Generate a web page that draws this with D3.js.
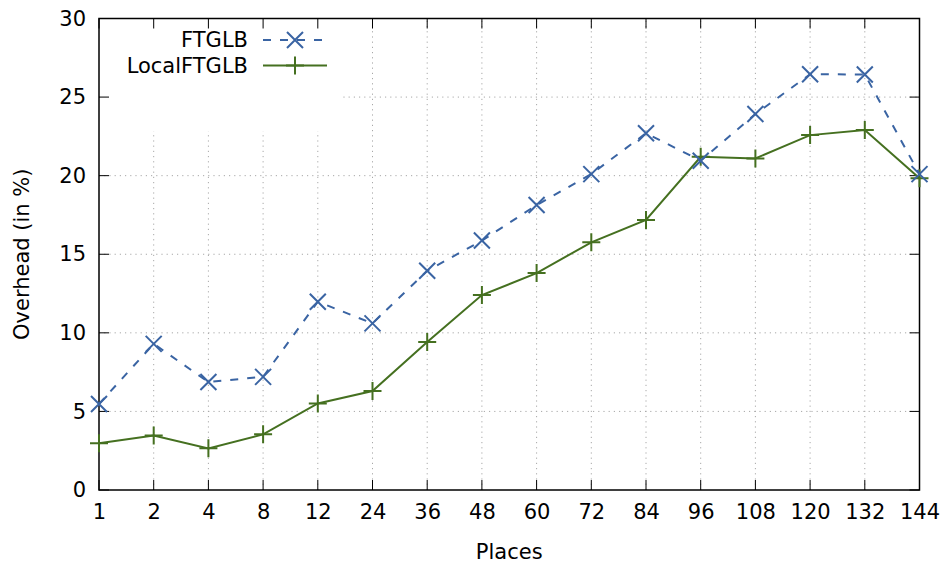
<!DOCTYPE html>
<html>
<head>
<meta charset="utf-8">
<script src="https://cdn.jsdelivr.net/npm/d3@7"></script>
<style>
  html, body { margin: 0; padding: 0; background: #fff; }
  svg { display: block; font-family: "DejaVu Sans", sans-serif; }
</style>
</head>
<body>
<svg id="chart" width="944" height="567"></svg>
<script>
const categories = ["1","2","4","8","12","24","36","48","60","72","84","96","108","120","132","144"];
const ftglb = [5.47, 9.3, 6.87, 7.2, 11.98, 10.6, 13.95, 15.87, 18.13, 20.1, 22.7, 20.95, 23.92, 26.45, 26.44, 20.1];
const localFtglb = [2.97, 3.46, 2.65, 3.54, 5.51, 6.3, 9.42, 12.4, 13.8, 15.76, 17.18, 21.2, 21.1, 22.58, 22.9, 19.83];
const yTicks = [0, 5, 10, 15, 20, 25, 30];
const seriesNames = ["FTGLB", "LocalFTGLB"];

const FS = 21;
const svg = d3.select("#chart");
const L = 99, R = 919.5, T = 18.5, B = 490;
const x = d3.scalePoint().domain(categories).range([L, R]);
const y = d3.scaleLinear().domain([0, 30]).range([B, T]);

const blue = "#3a64a3", green = "#457020", gridCol = "#a8a8a8";

// grid
const g = svg.append("g");
g.selectAll("line.hg").data(yTicks.filter(d => d > 0 && d < 30)).enter().append("line")
  .attr("x1", L).attr("x2", R).attr("y1", d => y(d)).attr("y2", d => y(d))
  .attr("stroke", gridCol).attr("stroke-width", 1).attr("stroke-dasharray", "1.2,4");
g.selectAll("line.vg").data(categories.slice(1, -1)).enter().append("line")
  .attr("x1", d => x(d)).attr("x2", d => x(d)).attr("y1", B).attr("y2", T)
  .attr("stroke", gridCol).attr("stroke-width", 1).attr("stroke-dasharray", "1.2,4");

// legend background (opaque key)
svg.append("rect").attr("x", L + 1).attr("y", T + 1).attr("width", 340 - L - 1).attr("height", 131 - T - 1).attr("fill", "#fff");

// ticks (inward, mirrored)
const tk = svg.append("g").attr("stroke", "#000").attr("stroke-width", 1);
yTicks.forEach(d => {
  tk.append("line").attr("x1", L).attr("x2", L + 10).attr("y1", y(d)).attr("y2", y(d));
  tk.append("line").attr("x1", R).attr("x2", R - 10).attr("y1", y(d)).attr("y2", y(d));
});
categories.forEach(d => {
  tk.append("line").attr("x1", x(d)).attr("x2", x(d)).attr("y1", B).attr("y2", B - 10);
  tk.append("line").attr("x1", x(d)).attr("x2", x(d)).attr("y1", T).attr("y2", T + 10);
});

// axes via d3
const yAxis = svg.append("g").attr("transform", `translate(${L},0)`)
  .call(d3.axisLeft(y).tickValues(yTicks).tickSize(0).tickPadding(13));
const xAxis = svg.append("g").attr("transform", `translate(0,${B})`)
  .call(d3.axisBottom(x).tickSize(0).tickPadding(14));
[yAxis, xAxis].forEach(a => {
  a.select(".domain").remove();
  a.selectAll("text").attr("font-size", FS).attr("fill", "#000").attr("font-family", "DejaVu Sans, sans-serif");
});

// border
svg.append("rect").attr("x", L).attr("y", T).attr("width", R - L).attr("height", B - T)
  .attr("fill", "none").attr("stroke", "#000").attr("stroke-width", 1.5);

// axis titles
svg.append("text").attr("x", (L + R) / 2).attr("y", 559).attr("text-anchor", "middle")
  .attr("font-size", FS).text("Places");
svg.append("text").attr("transform", `translate(29,${(T + B) / 2}) rotate(-90)`)
  .attr("text-anchor", "middle").attr("font-size", FS).text("Overhead (in %)");

// series
const line = d3.line().x((d, i) => x(categories[i])).y(d => y(d));
function xMark(sel, cx, cy, col) {
  const s = 8;
  sel.append("path").attr("d", `M${cx - s},${cy - s}L${cx + s},${cy + s}M${cx - s},${cy + s}L${cx + s},${cy - s}`)
    .attr("stroke", col).attr("stroke-width", 2).attr("fill", "none");
}
function plusMark(sel, cx, cy, col) {
  const s = 9;
  sel.append("path").attr("d", `M${cx - s},${cy}L${cx + s},${cy}M${cx},${cy - s}L${cx},${cy + s}`)
    .attr("stroke", col).attr("stroke-width", 2).attr("fill", "none");
}

svg.append("path").datum(localFtglb).attr("d", line).attr("fill", "none")
  .attr("stroke", green).attr("stroke-width", 2);
const gm = svg.append("g");
localFtglb.forEach((d, i) => plusMark(gm, x(categories[i]), y(d), green));

svg.append("path").datum(ftglb).attr("d", line).attr("fill", "none")
  .attr("stroke", blue).attr("stroke-width", 2).attr("stroke-dasharray", "8,9");
const bm = svg.append("g");
ftglb.forEach((d, i) => xMark(bm, x(categories[i]), y(d), blue));

// legend
const lg = svg.append("g");
const ly = [40, 65.5];
lg.append("text").attr("x", 248).attr("y", ly[0]).attr("dy", "0.35em").attr("text-anchor", "end")
  .attr("font-size", FS).text(seriesNames[0]);
lg.append("text").attr("x", 248).attr("y", ly[1]).attr("dy", "0.35em").attr("text-anchor", "end")
  .attr("font-size", FS).text(seriesNames[1]);
lg.append("line").attr("x1", 263).attr("x2", 327).attr("y1", ly[0]).attr("y2", ly[0])
  .attr("stroke", blue).attr("stroke-width", 2).attr("stroke-dasharray", "8,9").attr("stroke-dashoffset", 0);
xMark(lg, 295, ly[0], blue);
lg.append("line").attr("x1", 263).attr("x2", 327).attr("y1", ly[1]).attr("y2", ly[1])
  .attr("stroke", green).attr("stroke-width", 2);
plusMark(lg, 295, ly[1], green);
</script>
</body>
</html>
